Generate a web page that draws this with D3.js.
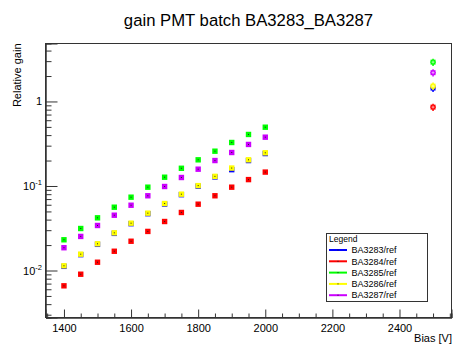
<!DOCTYPE html>
<html><head><meta charset="utf-8">
<script src="https://cdn.jsdelivr.net/npm/d3@7"></script>
<style>body{margin:0;background:#fff}svg{display:block}text{font-family:"Liberation Sans",Arial,sans-serif;fill:#000}</style>
</head><body><svg id="c" width="454" height="345"></svg>
<script>
const bias = [1400,1450,1500,1550,1600,1650,1700,1750,1800,1850,1900,1950,2000,2500];
const seriesNames = ["BA3283/ref","BA3284/ref","BA3285/ref","BA3286/ref","BA3287/ref"];
const seriesColors = ["#0000ff","#ff0000","#00ff00","#ffff00","#cc00ff"];
const gainBA3283 = [0.0112,0.0154,0.0204,0.0275,0.0358,0.0470,0.0611,0.0789,0.0995,0.1280,0.1560,0.2000,0.2420,1.44];
const gainBA3284 = [0.00659,0.00904,0.01253,0.0169,0.0222,0.0290,0.0380,0.0486,0.0609,0.0766,0.0968,0.119,0.146,0.857];
const gainBA3285 = [0.0231,0.0314,0.0420,0.0561,0.0737,0.0968,0.127,0.162,0.204,0.258,0.327,0.407,0.496,2.92];
const gainBA3286 = [0.01137,0.0156,0.0207,0.0279,0.0363,0.0477,0.0620,0.0800,0.101,0.130,0.163,0.204,0.247,1.52];
const gainBA3287 = [0.0186,0.0253,0.0341,0.0451,0.0592,0.0766,0.0986,0.126,0.158,0.200,0.249,0.310,0.378,2.19];
const relError = [0.01,0.01,0.01,0.01,0.01,0.01,0.01,0.01,0.01,0.01,0.01,0.01,0.01,0.1];
const biasError = [0,0,0,0,0,0,0,0,0,0,0,0,0,8];
const xMajorTicks = [1400,1600,1800,2000,2200,2400];
const yMajorTicks = [0.01,0.1,1];
const yMajorLabels = [["10","-2"],["10","-1"],["1",""]];
const title = "gain PMT batch BA3283_BA3287";
const xTitle = "Bias [V]";
const yTitle = "Relative gain";
const legendTitle = "Legend";

const allGains = [gainBA3283,gainBA3284,gainBA3285,gainBA3286,gainBA3287];
const svg = d3.select("#c");
const L=45.5,R=451.5,T=43.5,B=317.5;
const x = d3.scaleLinear().domain([1345,2555]).range([L,R]);
const y = d3.scaleLog().domain([0.00278,4.85]).range([B,T]);

// frame
svg.append("rect").attr("x",L).attr("y",T).attr("width",R-L).attr("height",B-T)
  .attr("fill","none").attr("stroke","#333").attr("stroke-width",1);

// x axis
const xMinor = d3.range(1350,2555,50).filter(v=>!xMajorTicks.includes(v));
const gx = svg.append("g").attr("transform",`translate(0,${B})`);
gx.call(d3.axisBottom(x).tickValues(xMajorTicks).tickSize(-8).tickPadding(7).tickFormat(d3.format("d")));
const gx2 = svg.append("g").attr("transform",`translate(0,${B})`);
gx2.call(d3.axisBottom(x).tickValues(xMinor).tickSize(-4).tickFormat(""));
[gx,gx2].forEach(g=>{g.select(".domain").attr("stroke","#333");g.selectAll("line").attr("stroke","#333");});
gx.selectAll("text").attr("font-size","11px").attr("fill","#000");

// y axis
const yMinor=[];
[0.001,0.01,0.1,1].forEach(d=>{for(let k=2;k<=9;k++){const v=d*k;if(v>=0.00278&&v<=4.85)yMinor.push(v);}});
const gy = svg.append("g").attr("transform",`translate(${L},0)`);
gy.call(d3.axisLeft(y).tickValues(yMajorTicks).tickSize(-12).tickFormat(""));
const gy2 = svg.append("g").attr("transform",`translate(${L},0)`);
gy2.call(d3.axisLeft(y).tickValues(yMinor).tickSize(-6).tickFormat(""));
[gy,gy2].forEach(g=>{g.select(".domain").attr("stroke","#333");g.selectAll("line").attr("stroke","#333");});
yMajorTicks.forEach((v,i)=>{
  const t = svg.append("text").attr("x",42).attr("y",y(v)+4).attr("text-anchor","end").attr("font-size","11px");
  t.append("tspan").text(yMajorLabels[i][0]);
  if(yMajorLabels[i][1]) t.append("tspan").attr("dy",-5).attr("font-size","7.5px").text(yMajorLabels[i][1]);
});

// titles
svg.append("text").attr("x",(L+R)/2).attr("y",26).attr("text-anchor","middle").attr("font-size","16.7px").text(title);
svg.append("text").attr("x",452).attr("y",342).attr("text-anchor","end").attr("font-size","11px").text(xTitle);
svg.append("text").attr("transform",`translate(21,${T}) rotate(-90)`).attr("text-anchor","end").attr("font-size","11px").text(yTitle);

// points
allGains.forEach((vals,si)=>{
  const g = svg.append("g");
  const col = seriesColors[si];
  vals.forEach((v,i)=>{
    const cx = x(bias[i]), cy = y(v);
    const lo = y(v*(1-relError[i])), hi = y(v*(1+relError[i]));
    if(relError[i]>0.05){
      g.append("line").attr("x1",cx).attr("x2",cx).attr("y1",lo).attr("y2",hi).attr("stroke",col).attr("stroke-width",1.5);
      g.append("line").attr("x1",x(bias[i]-biasError[i])).attr("x2",x(bias[i]+biasError[i])).attr("y1",cy).attr("y2",cy).attr("stroke",col).attr("stroke-width",1.5);
      g.append("rect").attr("x",cx-2.5).attr("y",cy-2.5).attr("width",5).attr("height",5).attr("fill",col);
      g.append("line").attr("x1",cx-1.5).attr("x2",cx+1.5).attr("y1",cy).attr("y2",cy).attr("stroke","#fff").attr("stroke-width",0.7).attr("opacity",0.8);
      g.append("line").attr("x1",cx).attr("x2",cx).attr("y1",cy-1.5).attr("y2",cy+1.5).attr("stroke","#fff").attr("stroke-width",0.7).attr("opacity",0.8);
    } else {
      g.append("rect").attr("x",cx-2.7).attr("y",cy-2.7).attr("width",5.4).attr("height",5.4).attr("fill",col);
      g.append("rect").attr("x",cx-0.5).attr("y",cy-0.5).attr("width",1).attr("height",1).attr("fill","#222");
    }
  });
});

// legend
const lx=326, ly=233.5, lw=101, lh=68;
svg.append("rect").attr("x",lx+0.5).attr("y",ly).attr("width",lw).attr("height",lh).attr("fill","#fff").attr("stroke","#333");
svg.append("text").attr("x",lx+3).attr("y",ly+8.5).attr("font-size","8.5px").text(legendTitle);
seriesNames.forEach((n,i)=>{
  const yy = ly+16.5+i*11.3;
  svg.append("line").attr("x1",lx+3).attr("x2",lx+21).attr("y1",yy).attr("y2",yy).attr("stroke",seriesColors[i]).attr("stroke-width",2);
  svg.append("line").attr("x1",lx+12).attr("x2",lx+12).attr("y1",yy-0.5).attr("y2",yy+0.5).attr("stroke","#222");
  svg.append("text").attr("x",lx+25.5).attr("y",yy+3.2).attr("font-size","9px").text(n);
});
</script></body></html>
